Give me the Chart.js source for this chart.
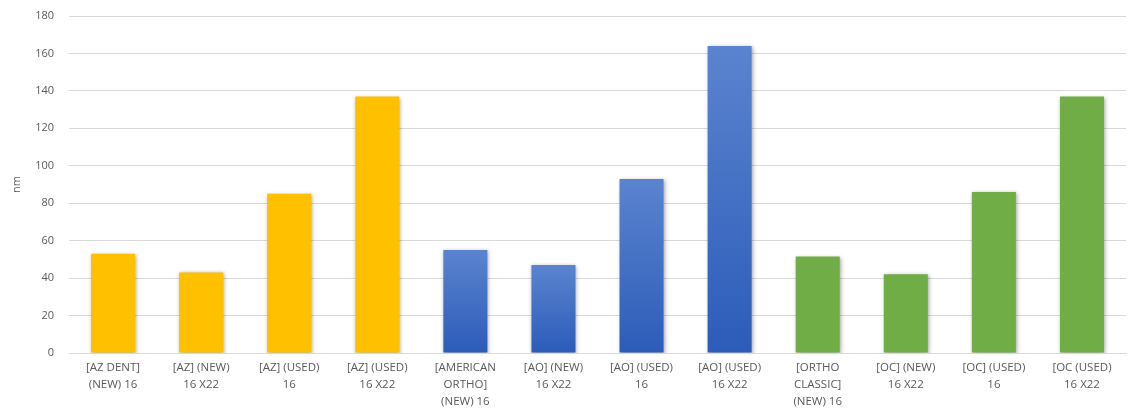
<!DOCTYPE html>
<html>
<head>
<meta charset="utf-8">
<script src="https://cdn.jsdelivr.net/npm/chart.js@4/dist/chart.umd.min.js"></script>
<style>
  html, body { margin: 0; padding: 0; background: #fff; }
  #wrap { width: 1128px; height: 414px; position: relative; }
</style>
</head>
<body>
<div id="wrap"><canvas id="myChart"></canvas></div>
<script>
// 카테고리 (여러 줄 라벨)
const categories = [
  ["[AZ DENT]", "(NEW) 16"],
  ["[AZ] (NEW)", "16 X22"],
  ["[AZ] (USED)", "16"],
  ["[AZ] (USED)", "16 X22"],
  ["[AMERICAN", "ORTHO]", "(NEW) 16"],
  ["[AO] (NEW)", "16 X22"],
  ["[AO] (USED)", "16"],
  ["[AO] (USED)", "16 X22"],
  ["[ORTHO", "CLASSIC]", "(NEW) 16"],
  ["[OC] (NEW)", "16 X22"],
  ["[OC] (USED)", "16"],
  ["[OC (USED)", "16 X22"],
];

// 막대 값 (nm)
const values = [53, 43, 85, 137, 55, 47, 93, 164, 51.5, 42, 86, 137];

// 막대별 브랜드 그룹
const groups = ["AZ", "AZ", "AZ", "AZ", "AO", "AO", "AO", "AO", "OC", "OC", "OC", "OC"];

// y축 눈금
const yTicks = [0, 20, 40, 60, 80, 100, 120, 140, 160, 180];

const tickFont = { family: "'Open Sans', 'Liberation Sans', sans-serif", size: 11 };
const labelFont = { family: "'Open Sans', 'Liberation Sans', sans-serif", size: 11.5, lineHeight: "17px" };

// 그룹별 색상
function barColor(context) {
  const group = groups[context.dataIndex];
  if (group === "AZ") return "#FFC000";
  if (group === "OC") return "#70AD47";
  // AO: 위에서 아래로 그라데이션
  const chart = context.chart;
  const yScale = chart.scales.y;
  if (!yScale || !chart.chartArea) return "#3F6DC4";
  const top = yScale.getPixelForValue(values[context.dataIndex]);
  const bottom = yScale.getPixelForValue(0);
  const g = chart.ctx.createLinearGradient(0, top, 0, bottom);
  g.addColorStop(0, "#5B84CF");
  g.addColorStop(1, "#2C5CB9");
  return g;
}

// 막대 그림자
const shadowPlugin = {
  id: "barShadow",
  beforeDatasetsDraw(chart) {
    const ctx = chart.ctx;
    ctx.save();
    ctx.shadowColor = "rgba(0,0,0,0.35)";
    ctx.shadowBlur = 4;
    ctx.shadowOffsetX = 1;
    ctx.shadowOffsetY = 1;
  },
  afterDatasetsDraw(chart) {
    chart.ctx.restore();
  },
};

const ctx = document.getElementById("myChart").getContext("2d");

const myChart = new Chart(ctx, {
  type: "bar",
  data: {
    labels: categories,
    datasets: [
      {
        label: "nm",
        data: values,
        backgroundColor: barColor,
        borderWidth: 0,
        barPercentage: 0.5,
        categoryPercentage: 1.0,
      },
    ],
  },
  plugins: [shadowPlugin],
  options: {
    responsive: true,
    maintainAspectRatio: false,
    animation: false,
    layout: { padding: { top: 16, right: 2, left: 10, bottom: 0 } },
    plugins: {
      legend: { display: false },
      tooltip: { enabled: false },
    },
    scales: {
      x: {
        grid: { display: false, drawTicks: false },
        border: { display: true, color: "#D9D9D9", width: 1 },
        ticks: {
          color: "#595959",
          font: labelFont,
          maxRotation: 0,
          autoSkip: false,
          padding: 6,
        },
        afterFit(scale) { scale.height = 61; },
      },
      y: {
        min: 0,
        max: 180,
        afterBuildTicks(scale) {
          scale.ticks = yTicks.map((v) => ({ value: v }));
        },
        grid: { color: "#D9D9D9", drawTicks: false },
        border: { display: false },
        ticks: {
          color: "#595959",
          font: tickFont,
          padding: 15,
        },
        title: {
          display: true,
          text: "nm",
          color: "#595959",
          font: tickFont,
          padding: { top: 0, bottom: 0 },
        },
        afterFit(scale) {
          scale.width = 59;
          scale.paddingTop = 0;
          scale.paddingBottom = 0;
        },
      },
    },
  },
});
</script>
</body>
</html>
